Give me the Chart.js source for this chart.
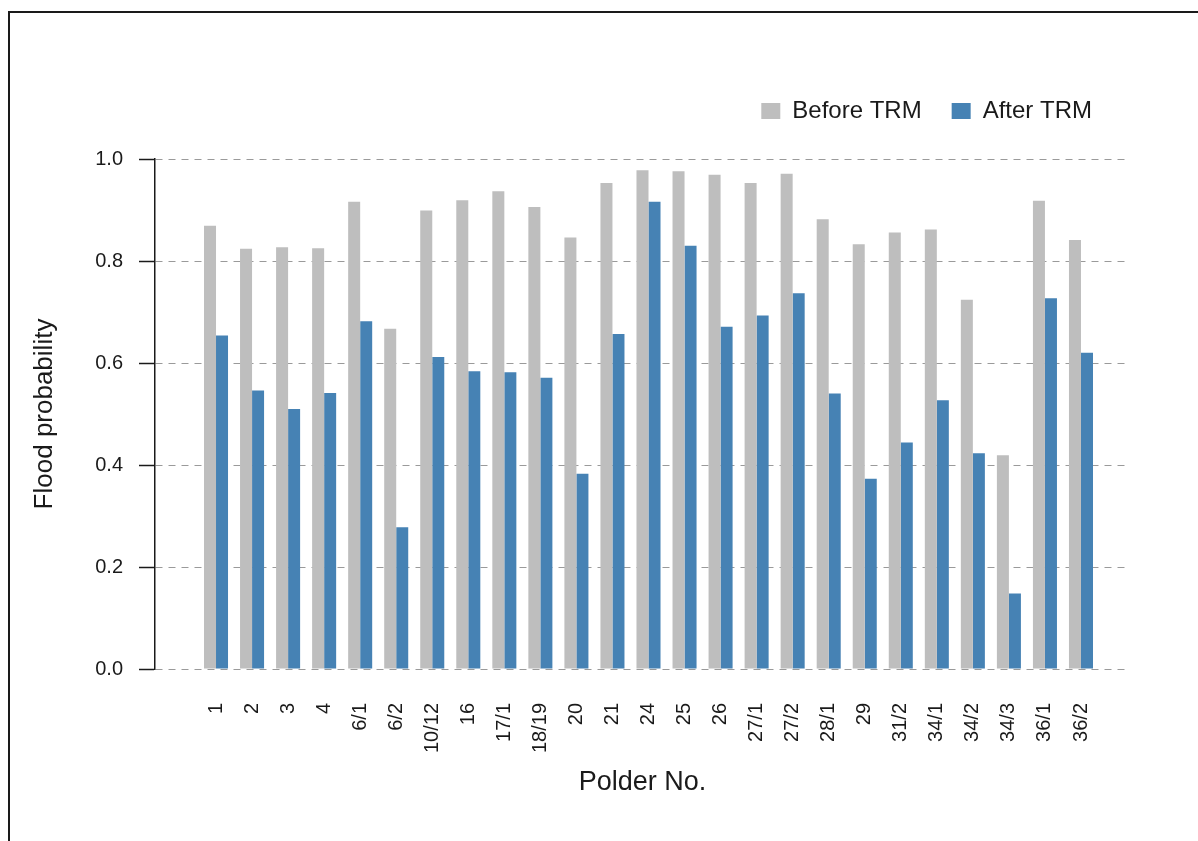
<!DOCTYPE html>
<html>
<head>
<meta charset="utf-8">
<script src="https://cdn.jsdelivr.net/npm/chart.js@4.4.1/dist/chart.umd.min.js"></script>
<style>
html, body { margin: 0; padding: 0; background: #fff; }
#wrap { position: relative; width: 1198px; height: 841px; overflow: hidden; }
#frame { position: absolute; left: 8px; top: 11px; width: 1400px; height: 1000px; border: 2px solid #1a1a1a; box-sizing: border-box; }
#chart { position: absolute; left: 0; top: 0; }
</style>
</head>
<body>
<div id="wrap"><div id="frame"></div><canvas id="chart" width="1198" height="841"></canvas></div>
<script>
const polders = ["1", "2", "3", "4", "6/1", "6/2", "10/12", "16", "17/1", "18/19", "20", "21", "24",
    "25", "26", "27/1", "27/2", "28/1", "29", "31/2", "34/1", "34/2", "34/3", "36/1", "36/2"];
const beforeTRM = [0.869, 0.824, 0.827, 0.825, 0.916, 0.667, 0.899, 0.919, 0.937, 0.906, 0.846, 0.953, 0.978,
    0.976, 0.969, 0.953, 0.971, 0.882, 0.833, 0.856, 0.862, 0.724, 0.419, 0.918, 0.841];
const afterTRM = [0.654, 0.546, 0.510, 0.541, 0.682, 0.278, 0.612, 0.584, 0.582, 0.571, 0.383, 0.657, 0.916,
    0.830, 0.671, 0.693, 0.737, 0.540, 0.373, 0.444, 0.527, 0.423, 0.148, 0.727, 0.620];
const yTicks = [0, 0.2, 0.4, 0.6, 0.8, 1.0];

// plot box in page pixels
const PLOT_LEFT = 155, PLOT_RIGHT = 1130, PLOT_TOP = 159, PLOT_BOTTOM = 669;
const PAD_TOP = 69;
const LEGEND_SHIFT = 8;
const FONT = "'Liberation Sans', Arial, Helvetica, sans-serif";

// legend sits higher than the plot: stretch its box and nudge items left
const legendSpacer = {
    id: "legendSpacer",
    beforeLayout(chart) {
        const lg = chart.legend;
        if (!lg || lg._spaced) return;
        const fit = lg.fit.bind(lg);
        lg.fit = function () {
            fit();
            this.height = PLOT_TOP - PAD_TOP;
            if (this.lineWidths) this.lineWidths[0] += LEGEND_SHIFT;
        };
        lg._spaced = true;
    }
};

new Chart(document.getElementById("chart"), {
    type: "bar",
    data: {
        datasets: [{
            label: "Before TRM",
            data: beforeTRM.map((v, i) => ({ x: i, y: v })),
            backgroundColor: "#bebebe",
            borderWidth: 0
        }, {
            label: "After TRM",
            data: afterTRM.map((v, i) => ({ x: i, y: v })),
            backgroundColor: "#4682b4",
            borderWidth: 0
        }]
    },
    options: {
        responsive: false,
        animation: false,
        devicePixelRatio: 1,
        categoryPercentage: 2 / 3,
        barPercentage: 1,
        layout: { padding: { left: 0, right: 1198 - PLOT_RIGHT, top: PAD_TOP, bottom: 0 } },
        scales: {
            x: {
                type: "linear",
                offset: false,
                min: -1.693,
                max: 25.36,
                afterBuildTicks: (axis) => { axis.ticks = polders.map((_, i) => ({ value: i })); },
                afterFit: (axis) => { axis.height = 841 - PLOT_BOTTOM; },
                grid: { display: false, drawTicks: false },
                border: { display: false },
                ticks: {
                    autoSkip: false,
                    minRotation: 90,
                    maxRotation: 90,
                    padding: 34,
                    color: "#1a1a1a",
                    font: { family: FONT, size: 20 },
                    callback: (v) => polders[v]
                },
                title: {
                    display: true,
                    text: "Polder No.",
                    color: "#1a1a1a",
                    font: { family: FONT, size: 27 },
                    padding: { top: 0, bottom: 42 }
                }
            },
            y: {
                min: 0,
                max: 1,
                afterBuildTicks: (axis) => { axis.ticks = yTicks.map(v => ({ value: v })); },
                afterFit: (axis) => { axis.width = PLOT_LEFT; },
                grid: {
                    color: "#9a9a9a",
                    lineWidth: 1,
                    drawTicks: true,
                    tickLength: 16,
                    tickColor: "#1a1a1a",
                    tickWidth: 1.5,
                    tickBorderDash: []
                },
                border: { display: true, color: "#1a1a1a", width: 1.5, dash: [7, 6] },
                ticks: {
                    padding: 16,
                    color: "#1a1a1a",
                    font: { family: FONT, size: 20 },
                    callback: (v) => v.toFixed(1)
                },
                title: {
                    display: true,
                    text: "Flood probability",
                    color: "#1a1a1a",
                    font: { family: FONT, size: 26 },
                    padding: { top: 29, bottom: 0 }
                }
            }
        },
        plugins: {
            legend: {
                position: "top",
                align: "end",
                labels: {
                    boxWidth: 19,
                    boxHeight: 16,
                    padding: 30,
                    color: "#1a1a1a",
                    font: { family: FONT, size: 24 }
                }
            },
            tooltip: { enabled: false }
        }
    },
    plugins: [legendSpacer]
});
</script>
</body>
</html>
